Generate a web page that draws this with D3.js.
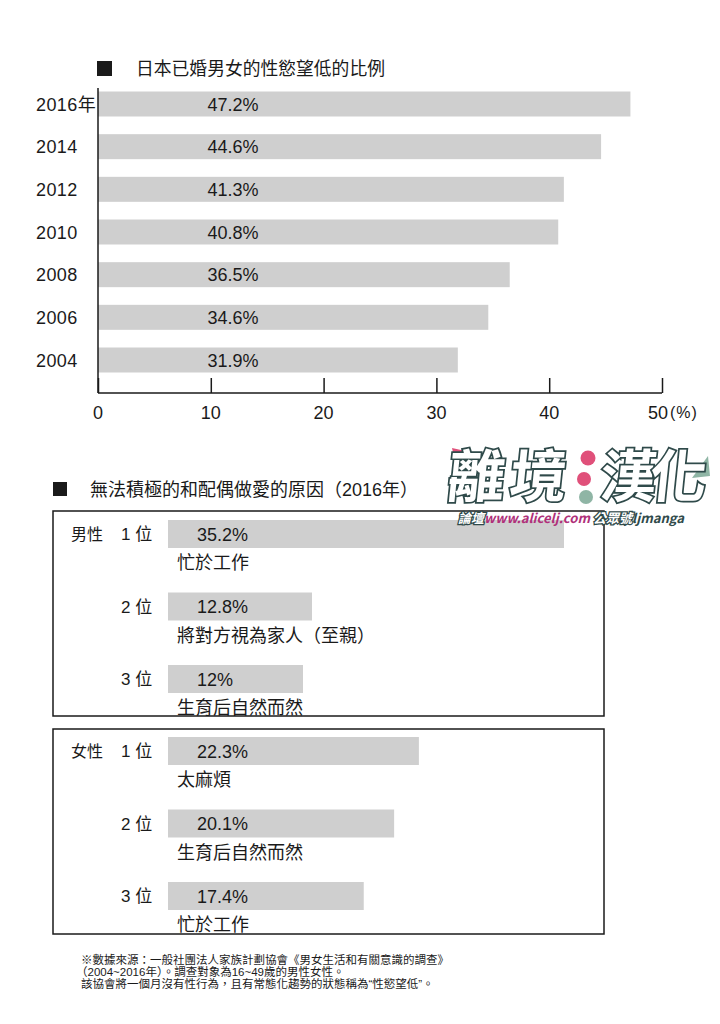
<!DOCTYPE html>
<html><head><meta charset="utf-8">
<script src="https://cdn.jsdelivr.net/npm/d3@7"></script>
<style>
html,body{margin:0;padding:0;background:#fff;}
svg{display:block;font-family:"Liberation Sans","Noto Sans CJK TC",sans-serif;}
</style></head>
<body><svg id="c" width="720" height="1024"></svg>
<script>
// ---- data ----
const title1 = "日本已婚男女的性慾望低的比例";
const years = ["2016年","2014","2012","2010","2008","2006","2004"];
const rates = [47.2,44.6,41.3,40.8,36.5,34.6,31.9];
const xTicks = [0,10,20,30,40,50];

const title2 = "無法積極的和配偶做愛的原因（2016年）";
const ranks = ["1位","2位","3位"];
const maleValues = [35.2,12.8,12];
const maleReasons = ["忙於工作","將對方視為家人（至親）","生育后自然而然"];
const femaleValues = [22.3,20.1,17.4];
const femaleReasons = ["太麻煩","生育后自然而然","忙於工作"];
const groups = ["男性","女性"];

const notes = [
  "※數據來源：一般社團法人家族計劃協會《男女生活和有關意識的調查》",
  "（2004~2016年）。調查對象為16~49歲的男性女性。",
  "該協會將一個月沒有性行為，且有常態化趨勢的狀態稱為“性慾望低”。"
];

const svg = d3.select("#c");
const ink = "#1a1a1a";
const barFill = "#cfcfcf";

// ---- chart 1 ----
svg.append("rect").attr("x",97).attr("y",61).attr("width",15).attr("height",15).attr("fill",ink);
svg.append("text").attr("x",136).attr("y",75).attr("font-size",17.8).attr("fill",ink).text(title1);

const x1 = d3.scaleLinear().domain([0,50]).range([98,662]);
const y1 = d3.scalePoint().domain(years).range([104,360]);
const g1 = svg.append("g");
g1.selectAll("rect.b").data(years).join("rect").attr("class","b")
  .attr("x",x1(0)).attr("y",d=>y1(d)-12.5).attr("height",25)
  .attr("width",(d,i)=>x1(rates[i])-x1(0)).attr("fill",barFill);
g1.selectAll("text.v").data(years).join("text").attr("class","v")
  .attr("x",x1(9.7)).attr("y",d=>y1(d)+6.5).attr("font-size",18).attr("fill",ink)
  .text((d,i)=>rates[i].toFixed(1)+"%");
g1.selectAll("text.y").data(years).join("text").attr("class","y")
  .attr("x",36).attr("y",d=>y1(d)+6.5).attr("font-size",18).attr("letter-spacing",0.4).attr("fill",ink).text(d=>d);

// axes
svg.append("line").attr("x1",x1(0)).attr("x2",x1(0)).attr("y1",88).attr("y2",393).attr("stroke",ink).attr("stroke-width",1.5);
const ax = svg.append("g").attr("transform","translate(0,393)")
  .call(d3.axisBottom(x1).tickValues(xTicks).tickSize(-15).tickFormat(""));
ax.select(".domain").attr("stroke",ink).attr("stroke-width",1.5).attr("d",`M${x1(0)},0H${x1(50)}`);
ax.selectAll(".tick line").attr("stroke",ink).attr("stroke-width",1.5);
svg.selectAll("text.t").data(xTicks).join("text").attr("class","t")
  .attr("x",d=>d===50?x1(d)-4:x1(d)).attr("y",419).attr("font-size",18).attr("fill",ink)
  .attr("text-anchor","middle").text(d=>d);
svg.append("text").attr("x",x1(50)+8).attr("y",418).attr("font-size",16).attr("letter-spacing",1).attr("fill",ink).text("(%)");

// ---- chart 2 ----
svg.append("rect").attr("x",53).attr("y",482).attr("width",14).attr("height",14).attr("fill",ink);
svg.append("text").attr("x",90).attr("y",496).attr("font-size",18).attr("fill",ink).text(title2);

const x2 = d3.scaleLinear().domain([0,36]).range([168,573]);
const boxes = [
  {g:groups[0], vals:maleValues, reasons:maleReasons, top:511, bottom:716, ry:[534,679]},
  {g:groups[1], vals:femaleValues, reasons:femaleReasons, top:729, bottom:934, ry:[751,896]}
];
boxes.forEach(b=>{
  const gg = svg.append("g");
  gg.append("rect").attr("x",53).attr("y",b.top).attr("width",551).attr("height",b.bottom-b.top)
    .attr("fill","none").attr("stroke",ink).attr("stroke-width",1.5);
  const y2 = d3.scalePoint().domain(ranks).range(b.ry);
  gg.append("text").attr("x",71).attr("y",y2(ranks[0])+6).attr("font-size",16).attr("fill",ink).text(b.g);
  gg.selectAll("rect.b").data(ranks).join("rect").attr("class","b")
    .attr("x",x2(0)).attr("y",d=>y2(d)-14).attr("height",28)
    .attr("width",(d,i)=>x2(b.vals[i])-x2(0)).attr("fill",barFill);
  gg.selectAll("text.r").data(ranks).join("text").attr("class","r")
    .attr("x",121).attr("y",d=>y2(d)+6).attr("font-size",17).attr("fill",ink).text(d=>d.replace("位"," 位"));
  gg.selectAll("text.v").data(ranks).join("text").attr("class","v")
    .attr("x",197).attr("y",d=>y2(d)+6.5).attr("font-size",18).attr("fill",ink).text((d,i)=>b.vals[i]+"%");
  gg.selectAll("text.s").data(ranks).join("text").attr("class","s")
    .attr("x",177).attr("y",d=>y2(d)+35).attr("font-size",18).attr("fill",ink).text((d,i)=>b.reasons[i]);
});

// ---- notes ----
svg.selectAll("text.n").data(notes).join("text").attr("class","n")
  .attr("x",(d,i)=>i==1?76:81).attr("y",(d,i)=>964+i*12).attr("font-size",11.5).attr("fill",ink).text(d=>d);

// ---- watermark (approximation) ----
const wm = svg.append("g");
wm.append("path").attr("d","M452,448 L470,452 L458,474 Z").attr("fill","#e0507a");
wm.append("path").attr("d","M708,456 L692,478 L710,476 Z").attr("fill","#8fb5a5");
const wmChars = ["離","境","漢","化"];
wm.selectAll("text.w").data(wmChars).join("text").attr("class","w")
  .attr("transform",(d,i)=>`translate(${[446,508,598,648][i]},497) skewX(-6)`)
  .attr("font-size",57).attr("font-weight","bold")
  .attr("font-family","Noto Sans CJK TC").attr("fill","#fff").attr("stroke","#2f4a4a").attr("stroke-width",3.5)
  .attr("paint-order","stroke").text(d=>d);
wm.append("circle").attr("cx",588).attr("cy",458).attr("r",7.5).attr("fill","#e0507a");
wm.append("circle").attr("cx",584).attr("cy",479).attr("r",7).attr("fill","#e0507a");
wm.append("circle").attr("cx",586).attr("cy",497).attr("r",7).attr("fill","#8fb5a5");
const st = wm.append("text").attr("x",458).attr("y",523).attr("font-size",13).attr("font-weight","bold")
  .attr("font-style","italic").attr("font-family","Noto Sans CJK TC");
st.append("tspan").attr("fill","#fff").attr("stroke","#2f4a4a").attr("stroke-width",2.5).attr("paint-order","stroke").text("論壇");
st.append("tspan").attr("fill","#b0307a").text("www.alicelj.com ");
st.append("tspan").attr("fill","#fff").attr("stroke","#2f4a4a").attr("stroke-width",2.5).attr("paint-order","stroke").text("公眾號");
st.append("tspan").attr("fill","#2f4a4a").text("ljmanga");
</script></body></html>
